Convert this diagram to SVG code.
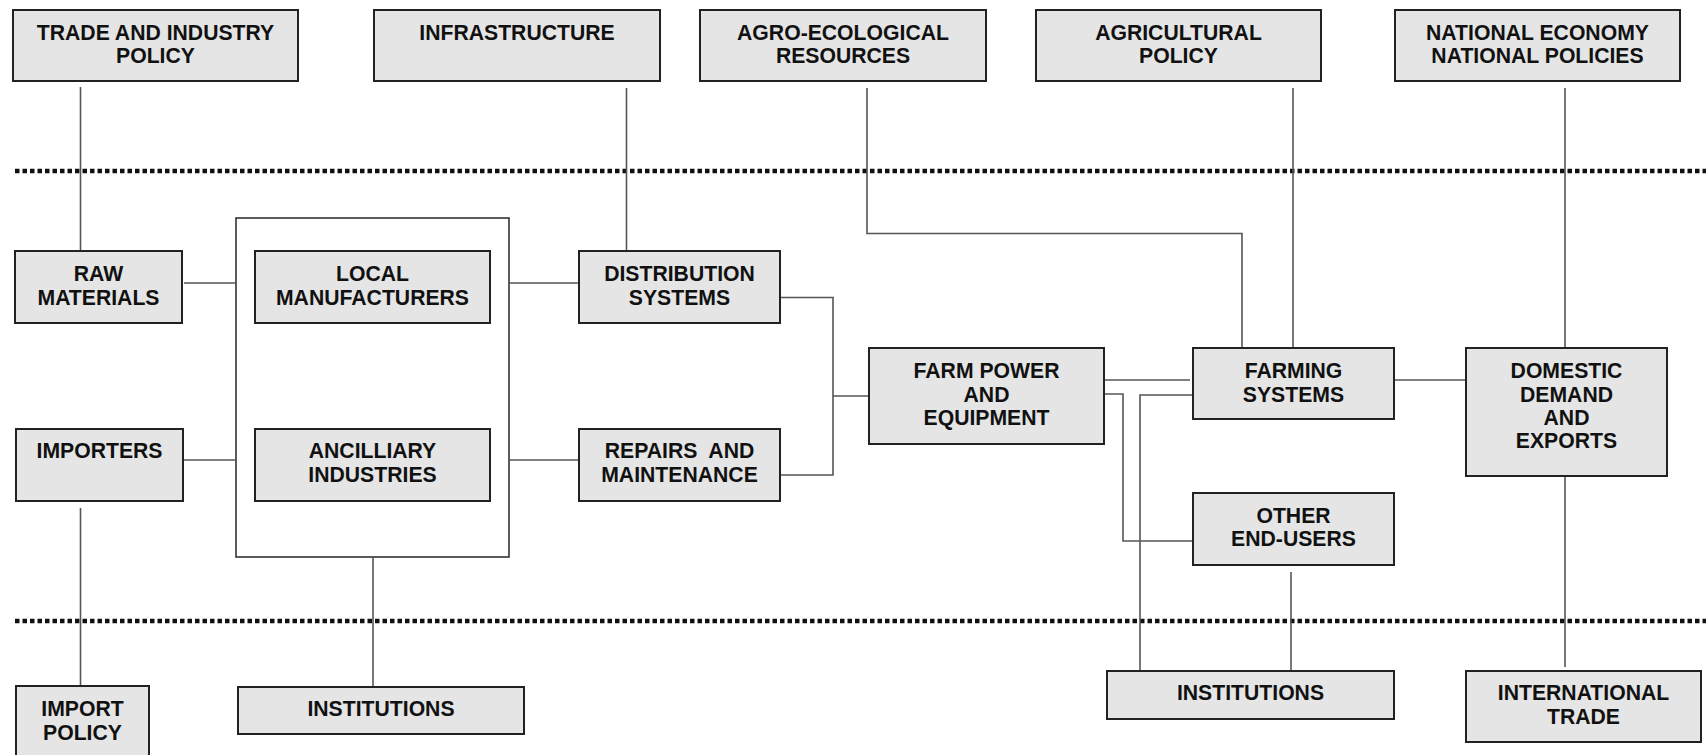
<svg xmlns="http://www.w3.org/2000/svg" width="1706" height="755" viewBox="0 0 1706 755">
<style>
.box{fill:#e5e5e5;stroke:#222;stroke-width:2}
.cont{fill:#fff;stroke:#333;stroke-width:1.6}
.t{font-family:"Liberation Sans",Arial,sans-serif;font-weight:bold;font-size:21.2px;fill:#111;text-anchor:middle;white-space:pre}
.c{fill:none;stroke:#555;stroke-width:1.6}
.dot{fill:none;stroke:#111;stroke-width:4.5;stroke-dasharray:4.5 3}
</style>
<rect width="1706" height="755" fill="#fff"/>
<g id="separators">
<line class="dot" x1="15" y1="171" x2="1706" y2="171"/>
<line class="dot" x1="15" y1="621" x2="1706" y2="621"/>
</g>
<g id="container"><rect class="cont" x="236" y="218" width="273" height="339"/></g>
<g id="connectors">
<path class="c" d="M80.5,87V251"/>
<path class="c" d="M626.5,88V251"/>
<path class="c" d="M867,88V233.5H1242V348"/>
<path class="c" d="M1293,88V348"/>
<path class="c" d="M1565,88V348"/>
<path class="c" d="M184,283H236"/>
<path class="c" d="M184,460H236"/>
<path class="c" d="M509,283H579"/>
<path class="c" d="M509,460H579"/>
<path class="c" d="M780,297.5H833V475H780"/>
<path class="c" d="M833,396H869"/>
<path class="c" d="M1104,380H1190"/>
<path class="c" d="M1104,394H1123V541H1193"/>
<path class="c" d="M1193,395H1140V671"/>
<path class="c" d="M1394,380H1466"/>
<path class="c" d="M1565,476V667"/>
<path class="c" d="M1291,572V671"/>
<path class="c" d="M80.5,508V686"/>
<path class="c" d="M373,557V687"/>
</g>
<g id="trade"><rect class="box" x="13" y="10" width="285" height="71"/><text class="t" x="155.5" y="39.5">TRADE AND INDUSTRY</text><text class="t" x="155.5" y="63">POLICY</text></g>
<g id="infrastructure"><rect class="box" x="374" y="10" width="286" height="71"/><text class="t" x="517" y="39.5">INFRASTRUCTURE</text></g>
<g id="agro"><rect class="box" x="700" y="10" width="286" height="71"/><text class="t" x="843" y="39.5">AGRO-ECOLOGICAL</text><text class="t" x="843" y="63">RESOURCES</text></g>
<g id="agripolicy"><rect class="box" x="1036" y="10" width="285" height="71"/><text class="t" x="1178.5" y="39.5">AGRICULTURAL</text><text class="t" x="1178.5" y="63">POLICY</text></g>
<g id="national"><rect class="box" x="1395" y="10" width="285" height="71"/><text class="t" x="1537.5" y="39.5">NATIONAL ECONOMY</text><text class="t" x="1537.5" y="63">NATIONAL POLICIES</text></g>
<g id="raw"><rect class="box" x="15" y="251" width="167" height="72"/><text class="t" x="98.5" y="281">RAW</text><text class="t" x="98.5" y="305">MATERIALS</text></g>
<g id="importers"><rect class="box" x="16" y="429" width="167" height="72"/><text class="t" x="99.5" y="458">IMPORTERS</text></g>
<g id="local"><rect class="box" x="255" y="251" width="235" height="72"/><text class="t" x="372.5" y="281">LOCAL</text><text class="t" x="372.5" y="305">MANUFACTURERS</text></g>
<g id="ancilliary"><rect class="box" x="255" y="429" width="235" height="72"/><text class="t" x="372.5" y="458">ANCILLIARY</text><text class="t" x="372.5" y="482">INDUSTRIES</text></g>
<g id="distribution"><rect class="box" x="579" y="251" width="201" height="72"/><text class="t" x="679.5" y="281">DISTRIBUTION</text><text class="t" x="679.5" y="305">SYSTEMS</text></g>
<g id="repairs"><rect class="box" x="579" y="429" width="201" height="72"/><text class="t" x="679.5" y="458">REPAIRS  AND</text><text class="t" x="679.5" y="482">MAINTENANCE</text></g>
<g id="farmpower"><rect class="box" x="869" y="348" width="235" height="96"/><text class="t" x="986.5" y="378">FARM POWER</text><text class="t" x="986.5" y="401.5">AND</text><text class="t" x="986.5" y="425">EQUIPMENT</text></g>
<g id="farming"><rect class="box" x="1193" y="348" width="201" height="71"/><text class="t" x="1293.5" y="378">FARMING</text><text class="t" x="1293.5" y="401.5">SYSTEMS</text></g>
<g id="domestic"><rect class="box" x="1466" y="348" width="201" height="128"/><text class="t" x="1566.5" y="378">DOMESTIC</text><text class="t" x="1566.5" y="401.5">DEMAND</text><text class="t" x="1566.5" y="424.5">AND</text><text class="t" x="1566.5" y="448">EXPORTS</text></g>
<g id="otherusers"><rect class="box" x="1193" y="493" width="201" height="72"/><text class="t" x="1293.5" y="523">OTHER</text><text class="t" x="1293.5" y="546">END-USERS</text></g>
<g id="institutions-right"><rect class="box" x="1107" y="671" width="287" height="48"/><text class="t" x="1250.5" y="700">INSTITUTIONS</text></g>
<g id="international"><rect class="box" x="1466" y="671" width="235" height="71"/><text class="t" x="1583.5" y="700">INTERNATIONAL</text><text class="t" x="1583.5" y="723.5">TRADE</text></g>
<g id="importpolicy"><rect class="box" x="16" y="686" width="133" height="80"/><text class="t" x="82.5" y="716">IMPORT</text><text class="t" x="82.5" y="739.5">POLICY</text></g>
<g id="institutions-left"><rect class="box" x="238" y="687" width="286" height="47"/><text class="t" x="381" y="716">INSTITUTIONS</text></g>
</svg>
